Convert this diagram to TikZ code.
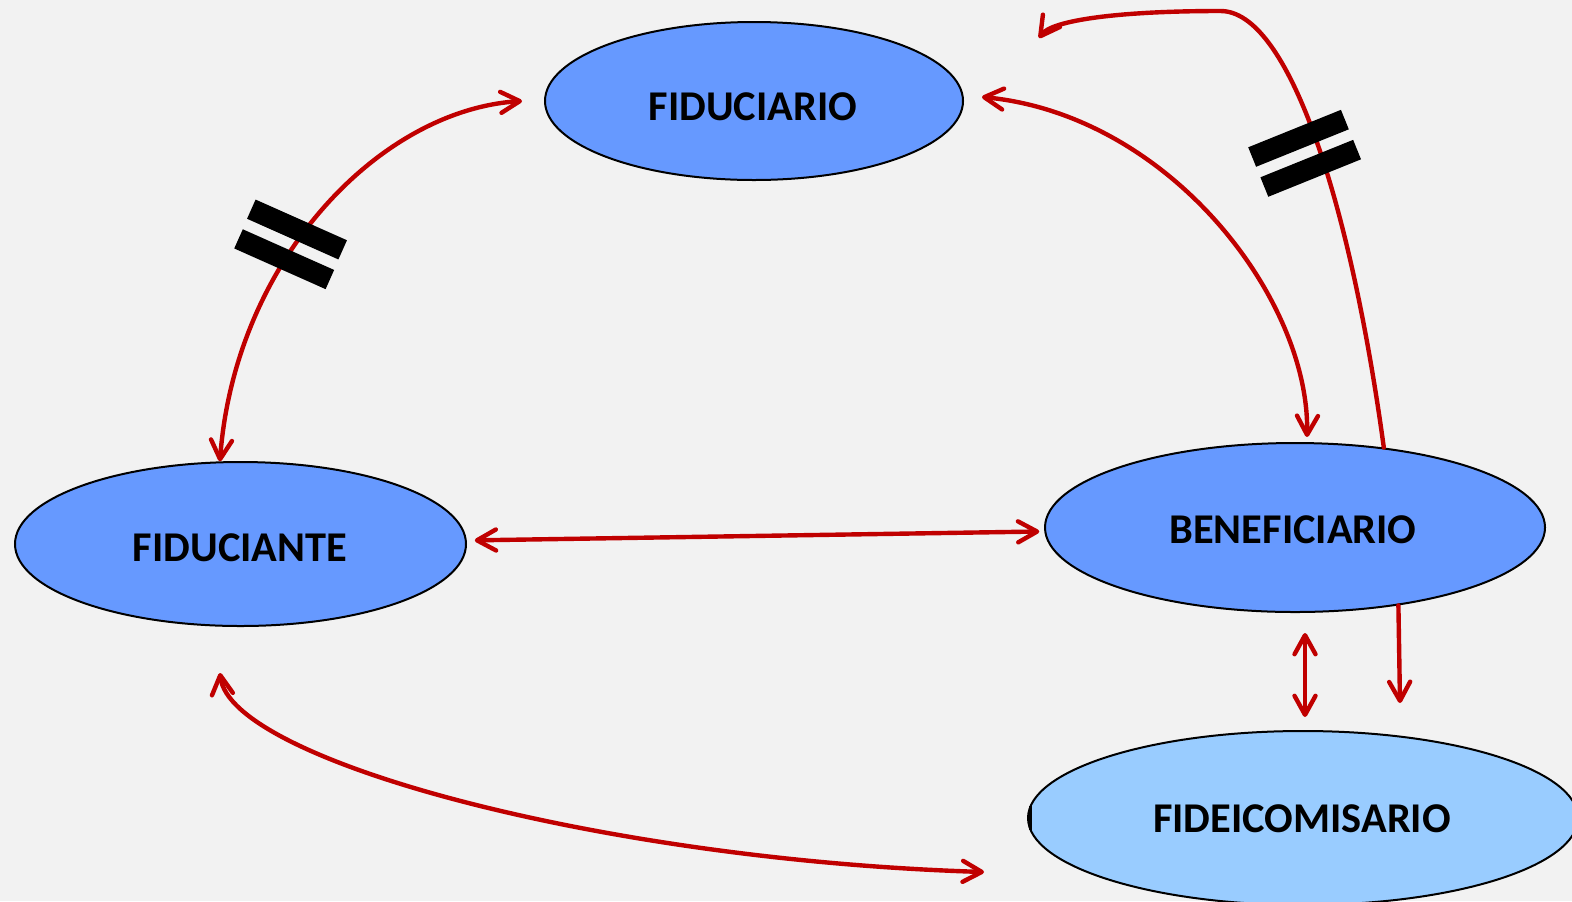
\documentclass[tikz,border=0pt]{standalone}
\usepackage{fontspec}
\setmainfont{Carlito}
\usetikzlibrary{shapes.geometric,arrows.meta,calc}
\definecolor{bg}{HTML}{F2F2F2}
\definecolor{nodeblue}{HTML}{6699FF}
\definecolor{lightblue}{HTML}{99CCFF}
\definecolor{linkred}{HTML}{C00000}
\begin{document}
\begin{tikzpicture}[x=0.5pt,y=-0.5pt,
  >={Straight Barb[length=9.5pt,width=10.5pt,round]},
  party/.style={ellipse,draw=black,line width=1pt,fill=nodeblue,inner sep=0pt},
  lab/.style={font=\bfseries\fontsize{21.2}{25}\selectfont,inner sep=0pt},
  link/.style={draw=linkred,line width=2.2pt,line cap=round},
  bar/.style={fill=black,minimum width=50pt,minimum height=10.5pt,inner sep=0pt}
]
\fill[bg] (0,0) rectangle (1572,901);
\useasboundingbox (0,0) rectangle (1572,901);
\clip (0,0) rectangle (1572,901);

% parties
\node[party,minimum width=209pt,minimum height=79pt] (fdio) at (754,101) {};
\node[party,minimum width=225.5pt,minimum height=82pt] (fdte) at (240.5,544) {};
\node[party,minimum width=250pt,minimum height=84.5pt] (benef) at (1295,527.5) {};
\node[party,fill=lightblue,minimum width=275pt,minimum height=87pt] (fideic) at (1303,818) {};
\draw[line width=1.3pt] ([shift={(1.8pt,6pt)}]fideic.west) -- ([shift={(1.8pt,-6pt)}]fideic.west);

\node[lab] (tfdio) at (753,107) {FIDUCIARIO};
\node[lab] (tfdte) at (240,548) {FIDUCIANTE};
\node[lab] (tbenef) at (1293,530) {BENEFICIARIO};
\node[lab] (tfideic) at (1302,819) {FIDEICOMISARIO};

% free ends
\coordinate (c3) at (1039,38);
\coordinate (c6) at (1400,703);
\coordinate (c7a) at (220,673);
\coordinate (c7b) at (984,872);

% connectors
\draw[link,<->] (fdte.104) .. controls (235,260) and (380,110) .. ([xshift=-11pt]fdio.west);
\draw[link,<->] ([shift={(9pt,2pt)}]fdio.east) .. controls (1170,115) and (1310,300) .. ([shift={(6pt,2.5pt)}]benef.north);
\draw[link,->] (benef.42) .. controls (1350,200) and (1288,10) .. (1220,11) .. controls (1120,11) and (1052,20) .. (c3);
\draw[link,<->,shorten <=4pt,shorten >=2.5pt] (fdte) -- (benef);
\draw[link,<->] ([shift={(5pt,-10pt)}]benef.south) -- ([shift={(1pt,6.5pt)}]fideic.north);
\draw[link,->] (benef.-37) -- (c6);
\draw[link,<->] (c7a) .. controls (230,760) and (600,860) .. (c7b);

% break marks
\node[bar,rotate=-24] (b1) at (297,229.5) {};
\node[bar,rotate=-24] (b2) at (284.2,259.2) {};
\node[bar,rotate=22] (b3) at (1298.5,138.3) {};
\node[bar,rotate=22] (b4) at (1310.7,168.3) {};
\end{tikzpicture}
\end{document}
